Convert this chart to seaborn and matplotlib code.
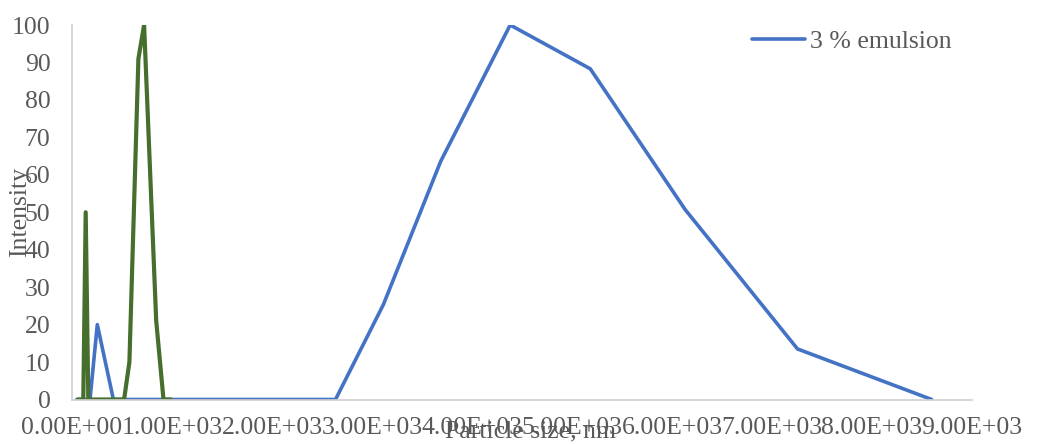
import matplotlib
matplotlib.use("Agg")
import matplotlib.pyplot as plt
import matplotlib.ticker as mticker
import seaborn as sns
import pandas as pd

# Particle size distribution (intensity %) vs particle size in nm
emulsion_size = [47, 180, 253, 414, 2635, 3113, 3687, 4382, 5183, 6132, 7255, 8597]
emulsion_intensity = [0, 0, 20, 0, 0, 25.3, 63.6, 100, 88.3, 50.7, 13.5, 0]

second_size = [60, 113, 137, 163, 521, 574, 664, 721, 842, 915, 989]
second_intensity = [0, 0, 50, 0, 0, 10, 91, 100, 21, 0, 0]

x_ticks = [0, 1000, 2000, 3000, 4000, 5000, 6000, 7000, 8000, 9000]
y_ticks = [0, 10, 20, 30, 40, 50, 60, 70, 80, 90, 100]

sns.set_theme(style="white")
plt.rcParams["font.family"] = ["Liberation Serif", "DejaVu Serif"]

text_color = "#595959"
axis_color = "#D0D0D0"
fs = 18.5

fig = plt.figure(figsize=(10.37, 4.44), dpi=100)
ax = fig.add_axes([72 / 1037, 44.5 / 444, 900 / 1037, 374.5 / 444])

df_a = pd.DataFrame({"size": emulsion_size, "intensity": emulsion_intensity})
df_b = pd.DataFrame({"size": second_size, "intensity": second_intensity})

sns.lineplot(data=df_a, x="size", y="intensity", ax=ax, color="#4472C4",
             linewidth=2.6, sort=False, estimator=None, label="3 % emulsion")
sns.lineplot(data=df_b, x="size", y="intensity", ax=ax, color="#466E2C",
             linewidth=3.0, sort=False, estimator=None, legend=False)

ax.set_xlim(0, 9000)
ax.set_ylim(0, 100)
ax.set_xticks(x_ticks)
ax.set_yticks(y_ticks)
ax.xaxis.set_major_formatter(mticker.FuncFormatter(lambda v, _: f"{v:.2E}"))

for side in ("top", "right"):
    ax.spines[side].set_visible(False)
for side in ("left", "bottom"):
    ax.spines[side].set_color(axis_color)
    ax.spines[side].set_linewidth(1.2)

ax.tick_params(axis="both", length=0, labelsize=fs, labelcolor=text_color)
ax.tick_params(axis="y", pad=15.5)
ax.tick_params(axis="x", pad=12.5)

ax.set_xlabel("Particle size, nm", fontsize=fs, color=text_color)
ax.set_ylabel("Intensity", fontsize=fs, color=text_color)
ax.xaxis.set_label_coords(0.509, -0.056)
ax.yaxis.set_label_coords(-0.046, 0.5)

handles, labels = ax.get_legend_handles_labels()
ax.legend(handles[:1], labels[:1], loc="center left",
          bbox_to_anchor=(752 / 1037, 1 - 42 / 444), bbox_transform=fig.transFigure,
          frameon=False, borderpad=0, borderaxespad=0, handlelength=2.06,
          handletextpad=0.2, fontsize=fs, labelcolor=text_color)

fig.savefig("out.png", dpi=100)
